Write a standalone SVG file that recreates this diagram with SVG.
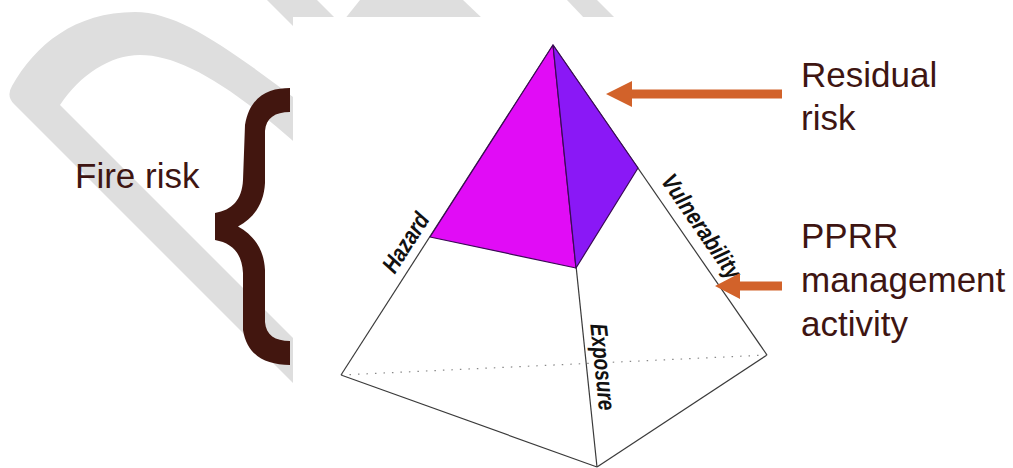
<svg xmlns="http://www.w3.org/2000/svg" width="1013" height="468" viewBox="0 0 1013 468">
  <defs>
    <style>
      .wm { fill: #dedede; }
      .lbl { font-family: "Liberation Sans", Arial, sans-serif; font-size: 35px; fill: #3e1512; }
      .edge { font-family: "Liberation Sans", Arial, sans-serif; font-size: 24px; font-weight: bold; font-style: italic; fill: #111; }
      .ln { stroke: #3a3a3a; stroke-width: 1.2; fill: none; }
      .fc { stroke: #3a0a55; stroke-width: 1.2; stroke-linejoin: round; }
      .arrow { fill: #d2622a; }
    </style>
  </defs>
  <rect width="1013" height="468" fill="#ffffff"/>

  <g id="watermark">
    <path class="wm" d="M300,390 L14,104 Q6,96 12,86 C35,45 75,12 135,12 C180,12 230,50 300,102 L300,147 C230,85 180,55 140,55 C110,55 80,75 60,105 L300,345 Z"/>
    <polygon class="wm" points="267,0 317,0 357,40 307,40"/>
    <polygon class="wm" points="360,0 463,0 484,20 344,20"/>
    <polygon class="wm" points="567,0 597,0 617,20 586,20"/>
    <rect x="293" y="17" width="490" height="451" fill="#ffffff"/>
  </g>

  <g id="pyramid">
    <line class="ln" x1="341" y1="375" x2="597" y2="467"/>
    <line class="ln" x1="597" y1="467" x2="767" y2="355"/>
    <line x1="341" y1="375" x2="767" y2="355" stroke="#888" stroke-width="1.2" stroke-dasharray="1.5 7"/>
    <line class="ln" x1="553" y1="45" x2="341" y2="375"/>
    <line class="ln" x1="553" y1="45" x2="597" y2="467"/>
    <line class="ln" x1="553" y1="45" x2="767" y2="355"/>
    <polygon class="fc" points="553,45 430,237 576,268" fill="#e10cf6"/>
    <polygon class="fc" points="553,45 576,268 638,168" fill="#8a18f6"/>
    <text class="edge" transform="translate(412.5,247) rotate(-57.29)" text-anchor="middle" textLength="66" lengthAdjust="spacingAndGlyphs">Hazard</text>
    <text class="edge" transform="translate(694.8,231.1) rotate(55.38)" text-anchor="middle" textLength="122" lengthAdjust="spacingAndGlyphs">Vulnerability</text>
    <text class="edge" transform="translate(594.7,367.7) rotate(84.05)" text-anchor="middle" textLength="87" lengthAdjust="spacingAndGlyphs">Exposure</text>
  </g>

  <g id="fire-risk">
    <text class="lbl" x="75" y="188">Fire risk</text>
    <path fill="#42160f" d="M290,88 C270,88 250,95 245,125 L243,180 C242,200 232,210 215,213 L215,240 C232,243 242,253 243,273 L243,330 C247,355 265,365 290,365 L290,341 C275,341 266,335 265,322 L265,270 C264,250 255,236 238,226.5 C255,217 264,203 265,183 L265,131 C266,118 275,112 290,112 Z"/>
  </g>

  <g id="residual-risk">
    <text class="lbl" x="801" y="87">Residual</text>
    <text class="lbl" x="801" y="130">risk</text>
  </g>

  <g id="pprr-activity">
    <text class="lbl" x="801" y="248">PPRR</text>
    <text class="lbl" x="801" y="292">management</text>
    <text class="lbl" x="801" y="336">activity</text>
  </g>

  <g id="connectors">
    <path class="arrow" d="M606,94 L632,81 L632,89.5 L782,89.5 L782,98.5 L632,98.5 L632,107 Z"/>
    <path class="arrow" d="M715,286 L740,273 L740,281.5 L782,281.5 L782,290.5 L740,290.5 L740,299 Z"/>
  </g>
</svg>
